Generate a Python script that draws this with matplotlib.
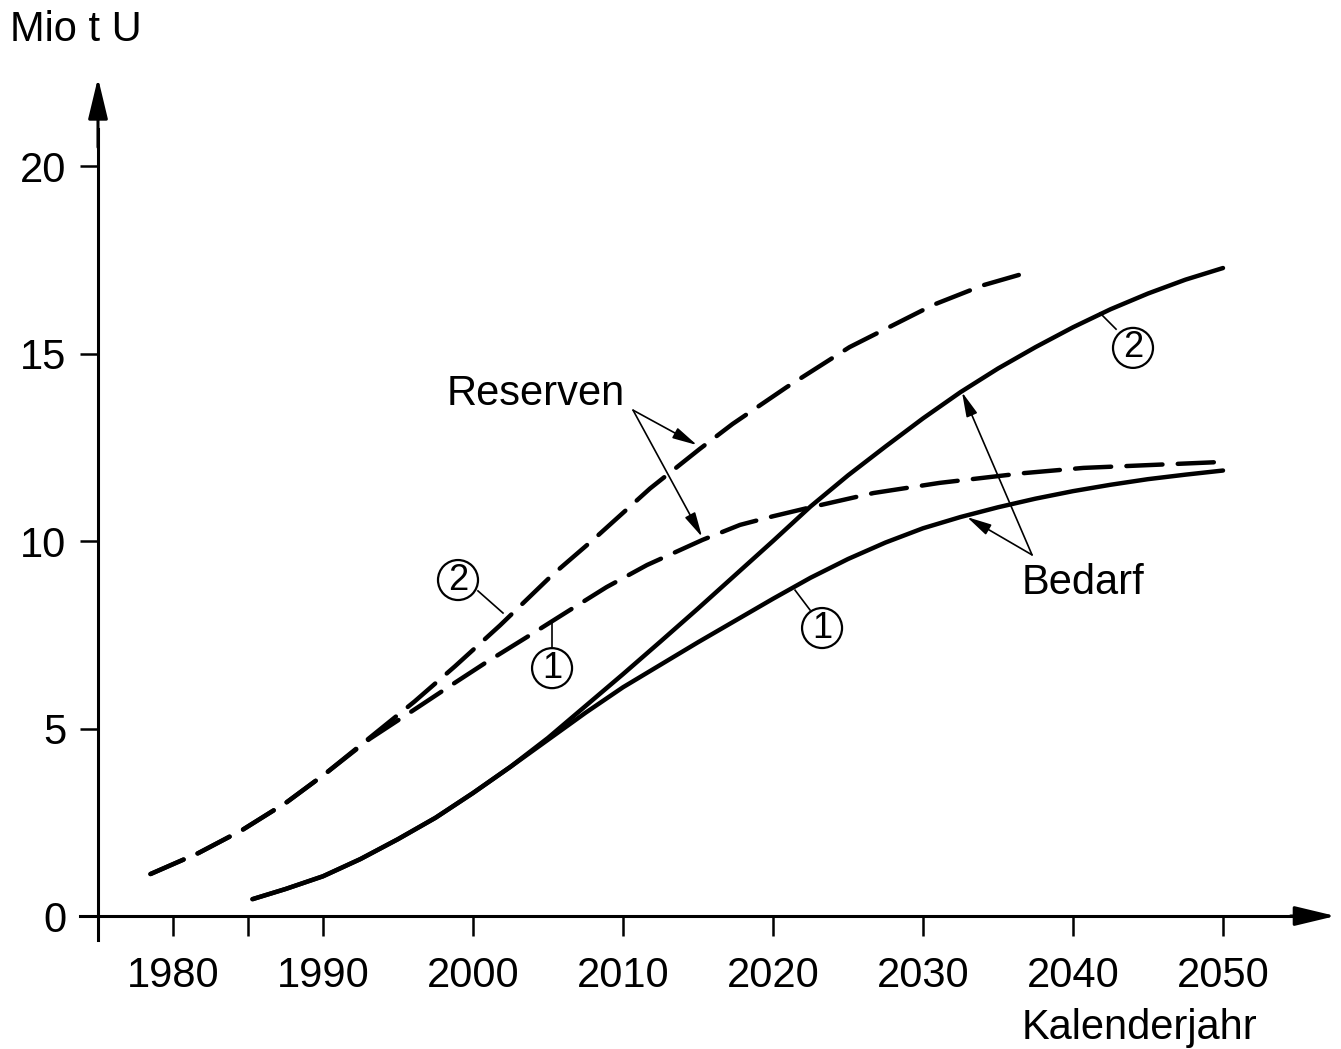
import matplotlib
matplotlib.use("Agg")
import matplotlib.pyplot as plt
from matplotlib.patches import Ellipse
from matplotlib.ticker import FixedLocator, FixedFormatter

plt.rcParams['font.family'] = ['Liberation Sans', 'DejaVu Sans']
plt.rcParams['lines.scale_dashes'] = False

# uranium reserves (Mio t U), two scenarios
res2_year = [1978.5, 1981.7, 1984.6, 1987.6, 1990.2, 1993.1, 1996.1, 1998.8, 2001.8,
             2005.3, 2008.0, 2011.8, 2015.1, 2017.3, 2020.9, 2025.1, 2030.7, 2034.0, 2037.3]
res2_val = [1.12, 1.68, 2.29, 3.04, 3.81, 4.75, 5.72, 6.66, 7.75,
            9.10, 10.03, 11.40, 12.45, 13.12, 14.10, 15.17, 16.30, 16.82, 17.20]

res1_year = [1978.5, 1981.7, 1984.6, 1987.6, 1990.2, 1993.1, 1996.3, 1998.6, 2000.9,
             2003.6, 2006.3, 2008.9, 2011.6, 2015.3, 2017.8, 2020.0, 2022.3, 2026.7,
             2031.1, 2036.7, 2040.7, 2050.0]
res1_val = [1.12, 1.68, 2.29, 3.04, 3.81, 4.72, 5.56, 6.17, 6.77,
            7.44, 8.12, 8.77, 9.36, 10.03, 10.43, 10.66, 10.88, 11.28,
            11.55, 11.81, 11.95, 12.11]

# cumulative uranium demand (Mio t U), two scenarios
dem_year = [1985.3, 1987.5, 1990.0, 1992.5, 1995.0, 1997.5, 2000.0, 2002.5, 2005.0,
            2007.5, 2010.0, 2012.5, 2015.0, 2017.5, 2020.0, 2022.5, 2025.0, 2027.5,
            2030.0, 2032.5, 2035.0, 2037.5, 2040.0, 2042.5, 2045.0, 2047.5, 2050.0]
dem2_val = [0.45, 0.72, 1.06, 1.52, 2.05, 2.62, 3.28, 3.98, 4.75,
            5.60, 6.45, 7.32, 8.20, 9.10, 10.00, 10.92, 11.75, 12.52,
            13.27, 13.97, 14.60, 15.17, 15.70, 16.18, 16.60, 16.97, 17.28]
dem1_val = [0.45, 0.72, 1.06, 1.52, 2.05, 2.62, 3.28, 3.98, 4.70,
            5.42, 6.10, 6.70, 7.30, 7.88, 8.46, 9.02, 9.52, 9.96,
            10.34, 10.64, 10.90, 11.13, 11.33, 11.50, 11.65, 11.77, 11.88]

x_ticks = [1980, 1985, 1990, 2000, 2010, 2020, 2030, 2040, 2050]
x_labels = ['1980', '', '1990', '2000', '2010', '2020', '2030', '2040', '2050']
y_ticks = [0, 5, 10, 15, 20]

W, H = 1341, 1049
fig = plt.figure(figsize=(W / 100, H / 100), dpi=100)
# axes box in pixels: x 80..1335.5, y 77.9..940.4
ax = fig.add_axes([80 / W, (H - 940.4) / H, 1255.5 / W, (940.4 - 77.9) / H])
ax.set_xlim(1973.8, 2057.5)
ax.set_ylim(-0.65, 22.35)

for s in ['top', 'right']:
  ax.spines[s].set_visible(False)
ax.spines['left'].set_position(('data', 1975))
ax.spines['bottom'].set_position(('data', 0))
ax.spines['left'].set_bounds(-0.65, 21.0)
ax.spines['bottom'].set_bounds(1973.8, 2055.5)
for s in ['left', 'bottom']:
  ax.spines[s].set_linewidth(2.2)

ax.xaxis.set_major_locator(FixedLocator(x_ticks))
ax.xaxis.set_major_formatter(FixedFormatter(x_labels))
ax.set_yticks(y_ticks)
ax.tick_params(axis='x', direction='out', length=14.5, width=1.8, pad=14, labelsize=30)
ax.tick_params(axis='y', direction='out', length=13, width=1.8, pad=10, labelsize=30)

# axis arrowheads
arr = dict(arrowstyle='-|>,head_length=2.5,head_width=0.6', mutation_scale=10,
           lw=2.2, color='k', shrinkA=0, shrinkB=0)
ax.annotate('', xy=(1975, 22.35), xytext=(1975, 20.5), arrowprops=arr, annotation_clip=False)
ax.annotate('', xy=(2057.5, 0), xytext=(2054.5, 0), arrowprops=arr, annotation_clip=False)

# curves
lw_c = 3.2
dash = (26, 11)
ax.plot(res2_year, res2_val, color='k', lw=lw_c, dashes=dash, dash_capstyle='round')
ax.plot(res1_year, res1_val, color='k', lw=lw_c, dashes=dash, dash_capstyle='round')
ax.plot(dem_year, dem2_val, color='k', lw=lw_c, solid_capstyle='round', solid_joinstyle='round')
ax.plot(dem_year, dem1_val, color='k', lw=lw_c, solid_capstyle='round', solid_joinstyle='round')

# callouts with arrows
thin = dict(arrowstyle='-|>,head_length=1.5,head_width=0.35', mutation_scale=10,
            lw=1.2, color='k', shrinkA=0, shrinkB=0)
ax.text(1998.27, 13.92, 'Reserven', fontsize=30, ha='left', va='center')
ax.annotate('', xy=(2014.93, 12.56), xytext=(2010.67, 13.49), arrowprops=thin)
ax.annotate('', xy=(2015.27, 10.11), xytext=(2010.67, 13.49), arrowprops=thin)

ax.text(2036.6, 8.88, 'Bedarf', fontsize=30, ha='left', va='center')
ax.annotate('', xy=(2032.6, 13.97), xytext=(2037.27, 9.63), arrowprops=thin)
ax.annotate('', xy=(2032.93, 10.64), xytext=(2037.27, 9.63), arrowprops=thin)

# circled scenario numbers: (label, centre, leader start, leader end)
circ_r_px = 20
circles = [
  ('2', (1999.0, 8.96), (2000.33, 8.67), (2002.0, 8.08)),
  ('1', (2005.27, 6.61), (2005.27, 7.15), (2005.27, 7.81)),
  ('1', (2023.27, 7.68), (2022.47, 8.16), (2021.47, 8.69)),
  ('2', (2044.0, 15.15), (2042.87, 15.65), (2041.8, 16.08)),
]
for lab, (cx, cy), p0, p1 in circles:
  ax.add_patch(Ellipse((cx, cy), 2 * circ_r_px / 15, 2 * circ_r_px / 37.5,
                       fill=False, lw=1.6, ec='k'))
  ax.text(cx, cy, lab, fontsize=26, ha='center', va='center')
  ax.plot([p0[0], p1[0]], [p0[1], p1[1]], color='k', lw=1.2)

# axis titles
ax.text(1969.13, 23.63, 'Mio t U', fontsize=30, ha='left', va='center')
ax.text(2036.6, -2.99, 'Kalenderjahr', fontsize=30, ha='left', va='center')

fig.savefig('out.png', dpi=100)
